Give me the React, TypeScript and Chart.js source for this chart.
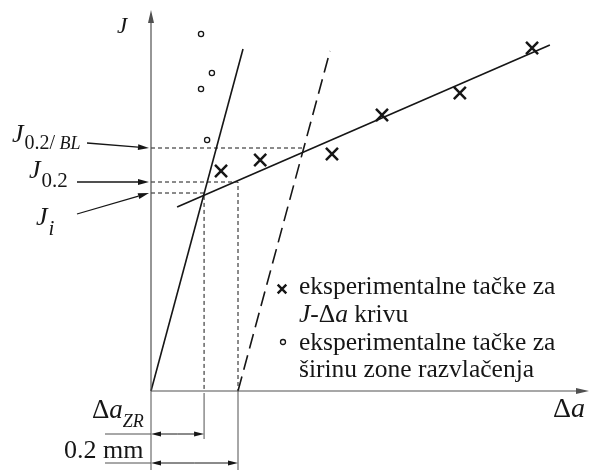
import { useEffect, useRef } from "react";
import { Chart, registerables } from "chart.js";
Chart.register(...registerables);

// Δa in mm, J in arbitrary units
const crossDa = [0.161, 0.251, 0.416, 0.531, 0.71, 0.876];
const crossJ = [220, 231, 237, 276, 298, 343];
const circleDa = [0.115, 0.14, 0.115, 0.129];
const circleJ = [357, 318, 302, 251];
const bluntDa = [0, 0.2115];
const bluntJ = [0, 342];
const offsetDa = [0.2, 0.4115];
const offsetJ = [0, 340];
const fitDa = [0.06, 0.917];
const fitJ = [184, 346];
const Ji = 198;
const J02 = 209;
const J02BL = 243;
const daZR = 0.122;
const da02 = 0.2;
const daBL = 0.349;
const axisDaMax = 1.0069;
const axisJMax = 381;

const W = 589;
const H = 474;
const SERIF = '"Liberation Serif", "Times New Roman", serif';
const INK = "#161616";
const AXIS = "#505050";

const pts = (xs: number[], ys: number[]) => xs.map((x, i) => ({ x, y: ys[i] }));

type Run = { t: string; size: number; italic?: boolean; dy?: number };

function drawRuns(ctx: CanvasRenderingContext2D, x: number, y: number, runs: Run[]) {
  let cx = x;
  for (const r of runs) {
    ctx.font = `${r.italic ? "italic " : ""}${r.size}px ${SERIF}`;
    ctx.fillText(r.t, cx, y + (r.dy || 0));
    cx += ctx.measureText(r.t).width;
  }
  return cx;
}

function arrow(
  ctx: CanvasRenderingContext2D,
  x1: number, y1: number, x2: number, y2: number,
  len = 10, half = 3, color = INK, lw = 1.3
) {
  ctx.save();
  ctx.strokeStyle = color;
  ctx.fillStyle = color;
  ctx.lineWidth = lw;
  const a = Math.atan2(y2 - y1, x2 - x1);
  const bx = x2 - Math.cos(a) * len;
  const by = y2 - Math.sin(a) * len;
  ctx.beginPath();
  ctx.moveTo(x1, y1);
  ctx.lineTo(bx, by);
  ctx.stroke();
  ctx.beginPath();
  ctx.moveTo(x2, y2);
  ctx.lineTo(bx + Math.sin(a) * half, by - Math.cos(a) * half);
  ctx.lineTo(bx - Math.sin(a) * half, by + Math.cos(a) * half);
  ctx.closePath();
  ctx.fill();
  ctx.restore();
}

const annotations = {
  id: "annotations",
  afterDatasetsDraw(chart: any) {
    const ctx: CanvasRenderingContext2D = chart.ctx;
    const xs = (v: number) => chart.scales.x.getPixelForValue(v);
    const ys = (v: number) => chart.scales.y.getPixelForValue(v);
    const x0 = xs(0);
    const y0 = ys(0);
    ctx.save();
    ctx.textBaseline = "alphabetic";
    ctx.fillStyle = INK;

    // axes
    arrow(ctx, x0, y0, xs(axisDaMax), y0, 13, 3, AXIS, 1.2);
    arrow(ctx, x0, y0, x0, ys(axisJMax), 13, 3, AXIS, 1.2);

    // axis titles
    drawRuns(ctx, 117, 33, [{ t: "J", size: 23, italic: true }]);
    drawRuns(ctx, 553, 417, [
      { t: "Δ", size: 28 },
      { t: "a", size: 28, italic: true },
    ]);

    // left labels
    const yBL = ys(J02BL);
    const y02 = ys(J02);
    const yI = ys(Ji);
    let e = drawRuns(ctx, 12, yBL - 6, [{ t: "J", size: 26, italic: true }]);
    drawRuns(ctx, e + 1, yBL + 1, [
      { t: "0.2/", size: 20 },
      { t: " BL", size: 18, italic: true },
    ]);
    arrow(ctx, 87, yBL - 5, x0 - 2, yBL, 11, 3);

    e = drawRuns(ctx, 29, y02 - 4, [{ t: "J", size: 26, italic: true }]);
    drawRuns(ctx, e + 1, y02 + 5, [{ t: "0.2", size: 21 }]);
    arrow(ctx, 77, y02, x0 - 2, y02, 11, 3);

    e = drawRuns(ctx, 36, yI + 32, [{ t: "J", size: 26, italic: true }]);
    drawRuns(ctx, e + 1, yI + 42, [{ t: "i", size: 21, italic: true }]);
    arrow(ctx, 77, yI + 21, x0 - 2, yI, 11, 3);

    // dimension lines below the axis
    const xZ = xs(daZR);
    const x2 = xs(da02);
    ctx.strokeStyle = AXIS;
    ctx.lineWidth = 1;
    ctx.beginPath();
    ctx.moveTo(x0, y0);
    ctx.lineTo(x0, y0 + 79);
    ctx.moveTo(xZ, y0 + 2);
    ctx.lineTo(xZ, y0 + 48);
    ctx.moveTo(x2, y0);
    ctx.lineTo(x2, y0 + 79);
    ctx.stroke();

    const d1 = y0 + 43;
    const d2 = y0 + 72;
    ctx.beginPath();
    ctx.moveTo(105, d1);
    ctx.lineTo(x0, d1);
    ctx.moveTo(105, d2);
    ctx.lineTo(x0, d2);
    ctx.stroke();
    const mid1 = (x0 + xZ) / 2;
    arrow(ctx, mid1, d1, x0, d1, 10, 2.6, INK, 1);
    arrow(ctx, mid1, d1, xZ, d1, 10, 2.6, INK, 1);
    const mid2 = (x0 + x2) / 2;
    arrow(ctx, mid2, d2, x0, d2, 10, 2.6, INK, 1);
    arrow(ctx, mid2, d2, x2, d2, 10, 2.6, INK, 1);

    ctx.fillStyle = INK;
    drawRuns(ctx, 92, 418, [
      { t: "Δ", size: 27 },
      { t: "a", size: 27, italic: true },
      { t: "ZR", size: 18, italic: true, dy: 9 },
    ]);
    drawRuns(ctx, 64, 458, [
      { t: "0.2", size: 26 },
      { t: " mm", size: 26 },
    ]);

    // legend
    ctx.strokeStyle = INK;
    ctx.lineWidth = 2.4;
    const lx = 282;
    const ly = 289;
    const r = 4.3;
    ctx.beginPath();
    ctx.moveTo(lx - r, ly - r);
    ctx.lineTo(lx + r, ly + r);
    ctx.moveTo(lx + r, ly - r);
    ctx.lineTo(lx - r, ly + r);
    ctx.stroke();
    ctx.lineWidth = 1.3;
    ctx.beginPath();
    ctx.arc(283, 342, 2.5, 0, Math.PI * 2);
    ctx.stroke();

    ctx.fillStyle = INK;
    const fs = 25.5;
    drawRuns(ctx, 299, 294, [{ t: "eksperimentalne tačke za", size: fs }]);
    drawRuns(ctx, 299, 322, [
      { t: "J", size: fs, italic: true },
      { t: "-Δ", size: fs },
      { t: "a", size: fs, italic: true },
      { t: " krivu", size: fs },
    ]);
    drawRuns(ctx, 299, 350, [{ t: "eksperimentalne tačke za", size: fs }]);
    drawRuns(ctx, 299, 377, [{ t: "širinu zone razvlačenja", size: fs }]);
    ctx.restore();
  },
};

export default function App() {
  const ref = useRef<HTMLCanvasElement | null>(null);
  useEffect(() => {
    if (!ref.current) return;
    const lineDs = (data: any[], dash: number[] = [], lw = 1.5, color = INK) => ({
      type: "scatter" as const,
      data,
      showLine: true,
      borderColor: color,
      borderWidth: lw,
      borderDash: dash,
      pointRadius: 0,
      fill: false,
    });
    const chart = new Chart(ref.current, {
      type: "scatter",
      data: {
        datasets: [
          lineDs([{ x: 0, y: J02BL }, { x: daBL, y: J02BL }], [4, 3], 1),
          lineDs([{ x: 0, y: J02 }, { x: da02, y: J02 }, { x: da02, y: 0 }], [4, 3], 1),
          lineDs([{ x: 0, y: Ji }, { x: daZR, y: Ji }, { x: daZR, y: 0 }], [4, 3], 1),
          lineDs(pts(bluntDa, bluntJ), [], 1.6),
          lineDs(pts(offsetDa, offsetJ), [15, 7], 1.6),
          lineDs(pts(fitDa, fitJ), [], 1.6),
          {
            type: "scatter",
            data: pts(crossDa, crossJ),
            pointStyle: "crossRot",
            pointRadius: 8.5,
            borderWidth: 2.5,
            borderColor: INK,
            backgroundColor: INK,
          },
          {
            type: "scatter",
            data: pts(circleDa, circleJ),
            pointStyle: "circle",
            pointRadius: 2.6,
            borderWidth: 1.3,
            borderColor: INK,
            backgroundColor: "#ffffff",
          },
        ],
      },
      options: {
        responsive: false,
        animation: false,
        events: [],
        layout: { padding: 0, autoPadding: false },
        scales: {
          x: { type: "linear", display: false, min: -151 / 435, max: (W - 151) / 435 },
          y: { type: "linear", display: false, min: 391 - H, max: 391 },
        },
        plugins: { legend: { display: false }, tooltip: { enabled: false } },
      },
      plugins: [annotations],
    });
    return () => chart.destroy();
  }, []);
  return (
    <div style={{ position: "fixed", left: 0, top: 0, width: W, height: H, background: "#fff" }}>
      <canvas ref={ref} width={W} height={H} style={{ display: "block" }} />
    </div>
  );
}
